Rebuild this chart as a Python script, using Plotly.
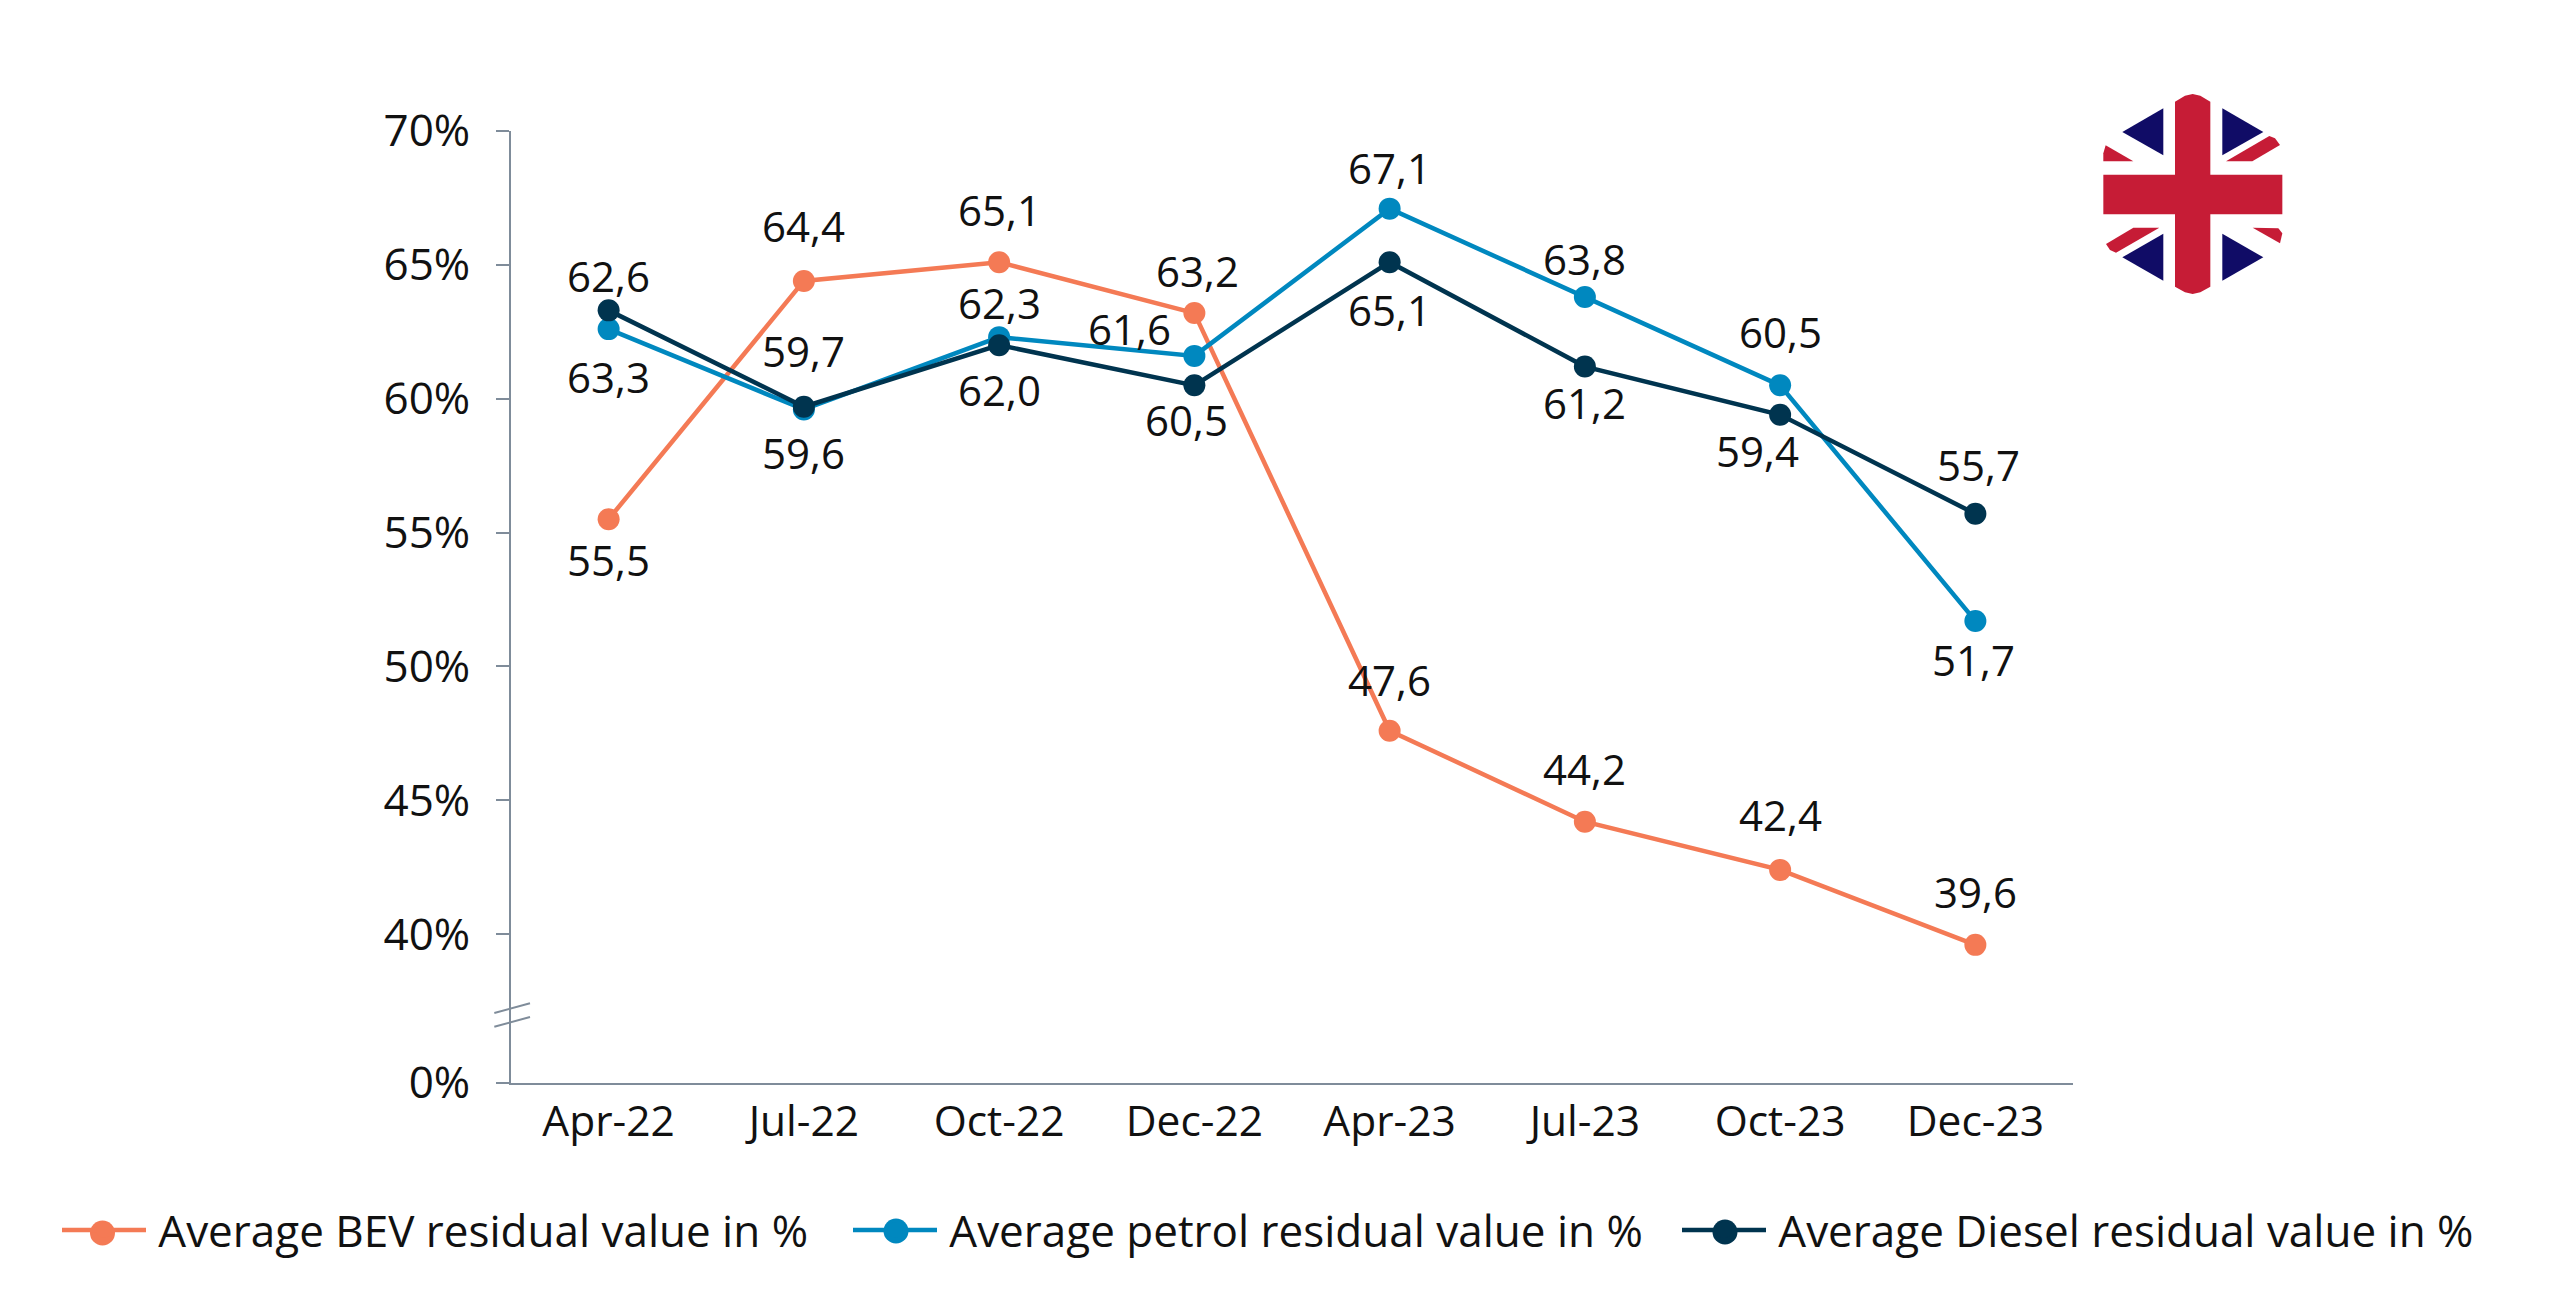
import plotly.graph_objects as go

W, H = 2560, 1305
PAGE = 8  # body margin of the written page
# plot area in page pixels
LEFT, RIGHT, TOP, BOTTOM = 511, 2073, 131, 1083

categories = ["Apr-22", "Jul-22", "Oct-22", "Dec-22", "Apr-23", "Jul-23", "Oct-23", "Dec-23"]
bev = [55.5, 64.4, 65.1, 63.2, 47.6, 44.2, 42.4, 39.6]
petrol = [62.6, 59.6, 62.3, 61.6, 67.1, 63.8, 60.5, 51.7]
diesel = [63.3, 59.7, 62.0, 60.5, 65.1, 61.2, 59.4, 55.7]

# the axis is cut below 40%, the 0% tick sits just under it
y_bottom = 34.44
y_ticks = [y_bottom, 40, 45, 50, 55, 60, 65, 70]
y_labels = ["0%", "40%", "45%", "50%", "55%", "60%", "65%", "70%"]

# label offsets from the marker, in pixels
bev_off = [(0, 40), (0, -55), (0, -53), (3, -43), (0, -51), (0, -53), (0, -55), (0, -53)]
petrol_off = [(0, -54), (0, 43), (0, -35), (-65, -27), (0, -41), (0, -38), (0, -54), (-2, 39)]
diesel_off = [(0, 66), (0, -56), (0, 44), (-8, 34), (0, 47), (0, 36), (-23, 36), (3, -49)]

ORANGE = "#F47A55"
BLUE = "#0088BF"
DARK = "#00344F"
AXIS = "#7F8C9A"
RED = "#C61C36"
NAVY = "#100C66"
INK = "#111111"
FONT = "Open Sans"


def px(x):
    return (x - LEFT) / (RIGHT - LEFT)


def py(y):
    return (BOTTOM - y) / (BOTTOM - TOP)


fig = go.Figure()
series = [
    ("Average BEV residual value in %", bev, ORANGE, bev_off, "legend", 57, 102.5, 1233),
    ("Average petrol residual value in %", petrol, BLUE, petrol_off, "legend2", 848, 896, 1231),
    ("Average Diesel residual value in %", diesel, DARK, diesel_off, "legend3", 1677, 1725, 1232),
]
for name, values, color, offsets, leg, leg_x, dot_x, dot_y in series:
    # thin space keeps the gap between legend line and text
    fig.add_trace(go.Scatter(
        x=categories, y=values, mode="lines+markers", name="\u2009" + name, legend=leg, showlegend=True,
        line=dict(color=color, width=4.5),
        marker=dict(color=color, size=22),
    ))
    for cat, val, (dx, dy) in zip(categories, values, offsets):
        fig.add_annotation(
            x=cat, y=val, text=f"{val:.1f}".replace(".", ","),
            showarrow=False, xshift=dx, yshift=-dy,
            font=dict(family=FONT, size=42, color=INK),
        )
    # legend markers are capped in size, so the larger dot goes under the native one
    fig.add_shape(type="circle", xref="paper", yref="paper",
                  x0=px(dot_x - 12.5), x1=px(dot_x + 12.5), y0=py(dot_y + 12.5), y1=py(dot_y - 12.5),
                  fillcolor=color, line_width=0, layer="above")


def poly(points, color):
    path = "M " + " L ".join(f"{px(a):.5f},{py(b):.5f}" for a, b in points) + " Z"
    fig.add_shape(type="path", xref="paper", yref="paper", path=path,
                  fillcolor=color, line_width=0, layer="above")


def zoomed(points):
    # flag outline was measured on a 3x crop starting at (2060, 70)
    return [(2060 + a / 3, 70 + b / 3) for a, b in points]


# axis break marks
for y1, y2 in [(1013, 1003.3), (1026.7, 1017)]:
    fig.add_shape(type="line", xref="paper", yref="paper",
                  x0=px(494.3), y0=py(y1), x1=px(530), y1=py(y2),
                  line=dict(color=AXIS, width=2))

# flag
for tri in [
    [(187, 186), (310, 115), (310, 256)],
    [(487, 115), (610, 186), (487, 256)],
    [(187, 562), (310, 491), (310, 632)],
    [(487, 491), (610, 562), (487, 632)],
]:
    poly(zoomed(tri), NAVY)
for bar in [
    [(137, 226), (220, 274), (130, 274), (130, 250)],
    [(498, 274), (628, 198), (645, 205), (660, 225), (577, 274)],
    [(298, 473), (168, 548), (150, 540), (138, 522), (220, 473)],
    [(578, 473), (655, 475), (667, 490), (660, 520)],
]:
    poly(zoomed(bar), RED)
poly(zoomed([(345, 95), (375, 77), (398, 72), (421, 77), (451, 95), (451, 314), (667, 314), (667, 433),
             (451, 433), (451, 650), (421, 667), (398, 672), (375, 667), (345, 650), (345, 433),
             (130, 433), (130, 314), (345, 314)]), RED)


def legend_at(x):
    return dict(
        orientation="h", x=px(x), y=py(1195), xanchor="left", yanchor="top",
        itemwidth=84, font=dict(family=FONT, size=44, color=INK),
        bgcolor="rgba(0,0,0,0)",
    )


fig.update_layout(
    width=W - 2 * PAGE, height=H - 2 * PAGE, autosize=False, showlegend=True,
    paper_bgcolor="white", plot_bgcolor="white",
    margin=dict(l=LEFT - PAGE, r=W - PAGE - RIGHT, t=TOP - PAGE, b=H - PAGE - BOTTOM, pad=0),
    font=dict(family=FONT, size=42.5, color=INK),
    xaxis=dict(
        type="category", range=[-0.5, 7.5], showgrid=False, zeroline=False,
        showline=True, linecolor=AXIS, linewidth=2, ticks="", ticklabelstandoff=0,
    ),
    yaxis=dict(
        range=[y_bottom, 70], tickvals=y_ticks, ticktext=y_labels, showgrid=False, zeroline=False,
        showline=True, linecolor=AXIS, linewidth=2, ticks="outside", ticklen=13, tickcolor=AXIS,
        tickwidth=2, ticklabelstandoff=17, tickfont=dict(family=FONT, size=44, color=INK),
    ),
    legend=legend_at(series[0][5]),
    legend2=legend_at(series[1][5]),
    legend3=legend_at(series[2][5]),
)

fig.write_html("out.html")
